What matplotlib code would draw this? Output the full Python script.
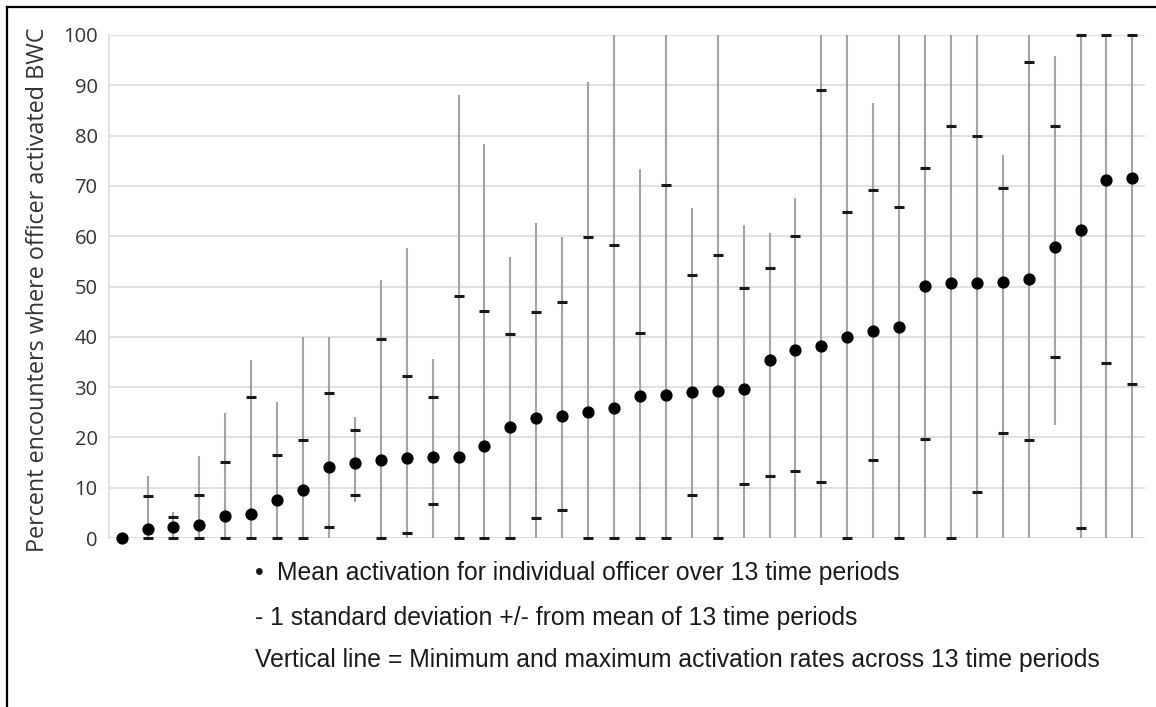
import matplotlib.pyplot as plt
from matplotlib.lines import Line2D
import numpy as np

# per officer, sorted by mean activation (percent)
means = [0, 1.7, 2.2, 2.6, 4.4, 4.7, 7.6, 9.5, 14.1, 14.9,
         15.5, 15.9, 16.2, 16.2, 18.3, 22.1, 23.9, 24.2, 25.1, 25.9,
         28.3, 28.5, 29.1, 29.3, 29.7, 35.4, 37.3, 38.2, 39.9, 41.1,
         42.0, 50.1, 50.6, 50.6, 50.8, 51.4, 57.8, 61.3, 71.1, 71.5]
sd_hi = [0, 8.4, 4.1, 8.6, 15.1, 28.1, 16.6, 19.4, 28.9, 21.5,
         39.6, 32.2, 28.1, 48.1, 45.1, 40.6, 45.0, 46.9, 59.8, 58.2,
         40.8, 70.1, 52.3, 56.2, 49.8, 53.7, 60.1, 89.0, 64.8, 69.1,
         65.8, 73.6, 82.0, 79.9, 69.5, 94.7, 82.0, 100, 100, 100]
sd_lo = [0, 0, 0, 0, 0, 0, 0, 0, 2.1, 8.6,
         0, 1.0, 6.8, 0, 0, 0, 3.9, 5.6, 0, 0,
         0, 0, 8.6, 0, 10.8, 12.3, 13.4, 11.1, 0, 15.6,
         0, 19.7, 0, 9.2, 20.9, 19.5, 35.9, 2.0, 34.8, 30.6]
mins = [0, 0, 0, 0, 0, 0, 0, 0, 0, 7.2,
        0, 0, 0, 0, 0, 0, 0, 0, 0, 0,
        0, 0, 0, 0, 0, 0, 0, 0, 0, 0,
        0, 0, 0, 0, 0, 0, 22.5, 0, 0, 0]
maxs = [0, 12.4, 5.2, 16.4, 24.9, 35.4, 27.1, 40, 40, 24.1,
        51.3, 57.7, 35.6, 88.1, 78.4, 55.9, 62.7, 59.8, 90.6, 100,
        73.3, 100, 65.6, 100, 62.2, 60.7, 67.6, 100, 100, 86.4,
        100, 100, 100, 100, 76.1, 100, 95.9, 100, 100, 100]
yticks = list(range(0, 101, 10))

legend_lines = ["Mean activation for individual officer over 13 time periods",
                "- 1 standard deviation +/- from mean of 13 time periods",
                "Vertical line = Minimum and maximum activation rates across 13 time periods"]

x = np.arange(1, len(means) + 1)

fig = plt.figure(figsize=(11.56, 7.07), dpi=100)
ax = fig.add_axes([108.7/1156, 1-538/707, (1145.3-108.7)/1156, (538-35)/707])

ax.vlines(x, mins, maxs, color='#a3a3a3', lw=1.5, zorder=2, clip_on=False)
ax.plot(x, sd_hi, ls='none', marker='_', ms=6.8, mew=2.2, color='#1a1a1a', zorder=3, clip_on=False)
ax.plot(x, sd_lo, ls='none', marker='_', ms=6.8, mew=2.2, color='#1a1a1a', zorder=3, clip_on=False)
ax.plot(x, means, ls='none', marker='o', ms=7.8, color='black', zorder=4, clip_on=False)

ax.set_xlim(0.5, len(means) + 0.5)
ax.set_ylim(0, 100)
ax.set_yticks(yticks)
ax.set_xticks([])
ax.yaxis.grid(True, color='#d9d9d9', lw=1.1)
ax.set_axisbelow(True)
for s in ['top', 'right', 'bottom']:
    ax.spines[s].set_visible(False)
ax.spines['left'].set_color('#d9d9d9')
ax.spines['left'].set_linewidth(1.1)
ax.tick_params(axis='y', length=0, pad=8, labelsize=14.5, labelcolor='#333333')
for lab in ax.get_yticklabels():
    lab.set_family(['Open Sans', 'DejaVu Sans'])

fig.text(38/1156, 1-290/707, "Percent encounters where officer activated BWC",
         rotation=90, ha='center', va='center', fontsize=16.8, color='#333333',
         family=['Open Sans', 'DejaVu Sans'])

# legend text under the plot
lf = ['Liberation Sans', 'DejaVu Sans']
fs = 17.8
fig.text(255/1156, 1-580/707, "\u2022", fontsize=fs, color='#1a1a1a', family=lf, va='baseline')
fig.text(277/1156, 1-580/707, legend_lines[0], fontsize=fs, color='#1a1a1a', family=lf, va='baseline')
fig.text(255/1156, 1-625/707, legend_lines[1], fontsize=fs, color='#1a1a1a', family=lf, va='baseline')
fig.text(255/1156, 1-667/707, legend_lines[2], fontsize=fs, color='#1a1a1a', family=lf, va='baseline')

# frame of the cropped figure
fig.add_artist(Line2D([6.5/1156, 1], [1-6.5/707, 1-6.5/707], transform=fig.transFigure, color='black', lw=1.6))
fig.add_artist(Line2D([6.5/1156, 6.5/1156], [0, 1-6.5/707], transform=fig.transFigure, color='black', lw=1.6))

fig.savefig('out.png', dpi=100)
